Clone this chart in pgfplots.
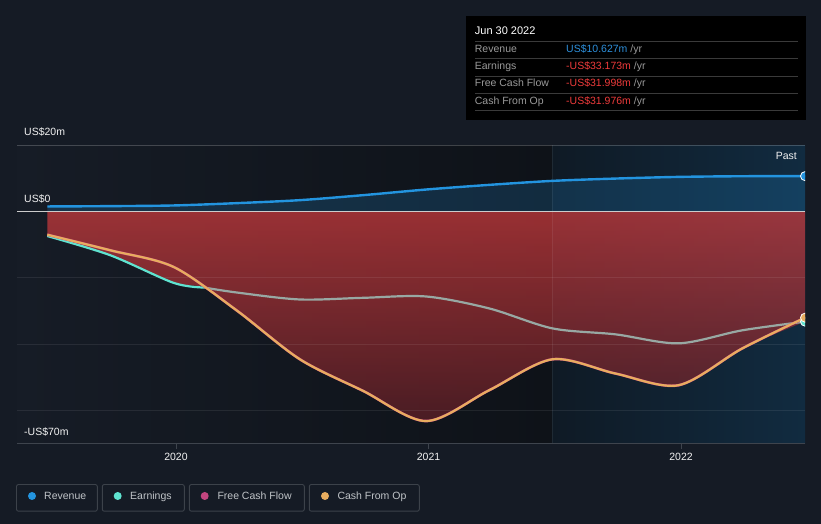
\documentclass[border=0pt]{standalone}
\usepackage{pgfplots}
\pgfplotsset{compat=1.18}
\usepackage{pgfplotstable}
\usepackage{fontspec}
\setmainfont{Liberation Sans}
\definecolor{bg}{HTML}{151B25}
\definecolor{plotL}{HTML}{161C26}
\definecolor{plotR}{HTML}{0E1218}
\definecolor{pastL}{HTML}{0F1A25}
\definecolor{pastR}{HTML}{112B40}
\definecolor{revc}{HTML}{2394DF}
\definecolor{earnc}{HTML}{5FE3D0}
\definecolor{fcfc}{HTML}{C2457F}
\definecolor{cfoc}{HTML}{E8AD5F}
\definecolor{greyline}{HTML}{98A8A3}
\definecolor{redtop}{RGB}{211,60,62}
\definecolor{redbot}{RGB}{98,32,39}
\definecolor{txt}{HTML}{C0C4C8}
\definecolor{boxc}{HTML}{3C424A}
\definecolor{axc}{HTML}{3E444D}
\definecolor{valred}{HTML}{EE3B3B}
\definecolor{valblue}{HTML}{2D90DC}
\definecolor{lblgrey}{HTML}{9A9A9A}
\definecolor{sepc}{HTML}{3A3A3A}
\newcommand\f[1]{\fontsize{#1}{#1}\selectfont}

\pgfplotstableread{
x y
2019.49 1.5
2019.74 1.6
2019.99 1.8
2020.24 2.5
2020.49 3.4
2020.74 4.9
2020.99 6.6
2021.24 8.0
2021.49 9.2
2021.74 9.9
2021.99 10.4
2022.24 10.6
2022.49 10.627
}\revtab

\pgfplotstableread{
x y
2019.49 -7.4
2019.74 -13.2
2019.99 -21.5
2020.111 -22.9
}\earnAtab

\pgfplotstableread{
x y
2020.111 -22.9
2020.24 -24.4
2020.49 -26.5
2020.74 -26.0
2020.99 -25.6
2021.24 -29.2
2021.49 -35.2
2021.74 -37.0
2021.99 -39.7
2022.24 -35.8
2022.49 -33.173
}\earnBtab

\pgfplotstableread{
x y
2019.49 -7.0
2019.74 -11.7
2019.99 -16.7
2020.24 -29.8
2020.49 -44.5
2020.74 -54.0
2020.99 -63.1
2021.24 -53.8
2021.49 -44.5
2021.74 -48.8
2021.99 -52.3
2022.24 -41.3
2022.49 -31.976
}\cfotab

\pgfplotstableread{
x y
2019.49 -7.0
2019.74 -11.7
2019.99 -16.7
2020.24 -29.8
2020.49 -44.5
2020.74 -54.0
2020.99 -63.1
2021.24 -53.8
2021.49 -44.5
2021.74 -48.8
2021.99 -52.3
2022.24 -41.3
2022.49 -31.998
}\fcftab

\pgfplotstableread{
x y
2019.49 -7.4
2019.74 -13.2
2019.99 -21.5
2020.111 -22.9
2020.24 -29.8
2020.49 -44.5
2020.74 -54.0
2020.99 -63.1
2021.24 -53.8
2021.49 -44.5
2021.74 -48.8
2021.99 -52.3
2022.24 -41.3
2022.49 -33.173
}\envtab

\begin{document}
\begin{tikzpicture}[x=1pt,y=1pt]
\fill[bg] (0,0) rectangle (821,524);
\useasboundingbox (0,0) rectangle (821,524);
\begin{axis}[
  at={(17pt,80pt)}, anchor=south west,
  scale only axis, width=788pt, height=299pt,
  xmin=2019.37, xmax=2022.49, ymin=-70, ymax=20,
  axis line style={draw=none},
  xtick={2020,2021,2022}, xticklabels={},
  ytick=\empty,
  xtick pos=left, tick align=outside,
  major tick length=5pt,
  tick style={draw=axc, line width=1pt},
  clip marker paths=true,
]
% backgrounds
\path[left color=plotL, right color=plotR] (2019.37,-70) rectangle (2021.49,20);
\path[left color=pastL, right color=pastR] (2021.49,-70) rectangle (2022.49,20);
% revenue area
\addplot[draw=none, fill=revc, fill opacity=0.2, smooth] table {\revtab} \closedcycle;
% negative area
\addplot[draw=none, top color=redtop, bottom color=redbot, fill opacity=0.7, smooth] table {\envtab} \closedcycle;
% grid
\draw[white, opacity=0.08, line width=1pt] (2019.37,-20) -- (2022.49,-20);
\draw[white, opacity=0.08, line width=1pt] (2019.37,-40) -- (2022.49,-40);
\draw[white, opacity=0.08, line width=1pt] (2019.37,-60) -- (2022.49,-60);
\draw[white, opacity=0.07, line width=1pt] (2021.49,-70) -- (2021.49,20);
\draw[white, opacity=0.2, line width=2pt] (2019.37,20) -- (2022.49,20);
\draw[axc, line width=2pt] (2019.37,-70) -- (2022.49,-70);
\draw[white!60!gray, line width=1.3pt] (2019.37,0) -- (2022.49,0);
% lines
\addplot[revc, line width=2.4pt, smooth] table {\revtab};
\addplot[earnc, line width=2.2pt, smooth] table {\earnAtab};
\addplot[greyline, line width=2.2pt, smooth] table {\earnBtab};
\addplot[fcfc, line width=2.6pt, smooth] table {\fcftab};
\addplot[cfoc, line width=2.2pt, smooth] table {\cfotab};
% end markers
\addplot[only marks, mark=*, mark size=4.5pt, mark options={fill=revc, draw=white, line width=0.8pt}] coordinates {(2022.49,10.627)};
\addplot[only marks, mark=*, mark size=4.5pt, mark options={fill=earnc, draw=white, line width=0.8pt}] coordinates {(2022.49,-33.173)};
\addplot[only marks, mark=*, mark size=4.5pt, mark options={fill=cfoc, draw=white, line width=0.8pt}] coordinates {(2022.49,-31.976)};
\end{axis}

% y labels
\node[anchor=base west, inner sep=0, text=white!90!gray, font=\f{10.5}] at (24,388) {US\$20m};
\node[anchor=base west, inner sep=0, text=white!90!gray, font=\f{10.5}] at (24,321) {US\$0};
\node[anchor=base west, inner sep=0, text=white!90!gray, font=\f{10.5}] at (24,88) {-US\$70m};
\node[anchor=base east, inner sep=0, text=white!90!gray, font=\f{10.5}] at (797,364) {Past};
% x labels
\node[anchor=base, inner sep=0, text=white!90!gray, font=\f{10.5}] at (176,63) {2020};
\node[anchor=base, inner sep=0, text=white!90!gray, font=\f{10.5}] at (428.5,63) {2021};
\node[anchor=base, inner sep=0, text=white!90!gray, font=\f{10.5}] at (681,63) {2022};

% tooltip
\fill[black] (466,508.3) rectangle (805.7,404);
\node[anchor=base west, inner sep=0, text=white, font=\f{11}] at (474.7,489) {Jun 30 2022};
\foreach \yy in {41.3,58.3,76.3,93.3,111} {\draw[sepc, line width=1pt] (475,524-\yy) -- (797.7,524-\yy);}
\node[anchor=base west, inner sep=0, text=lblgrey, font=\f{10.5}] at (474.7,471.7) {Revenue};
\node[anchor=base west, inner sep=0, text=lblgrey, font=\f{10.5}] at (474.7,454.4) {Earnings};
\node[anchor=base west, inner sep=0, text=lblgrey, font=\f{10.5}] at (474.7,437) {Free Cash Flow};
\node[anchor=base west, inner sep=0, text=lblgrey, font=\f{10.5}] at (474.7,419.7) {Cash From Op};
\node[anchor=base west, inner sep=0, font=\f{10.5}] at (566,471.7) {\textcolor{valblue}{US\$10.627m} \textcolor{lblgrey}{/yr}};
\node[anchor=base west, inner sep=0, font=\f{10.5}] at (566,454.4) {\textcolor{valred}{-US\$33.173m} \textcolor{lblgrey}{/yr}};
\node[anchor=base west, inner sep=0, font=\f{10.5}] at (566,437) {\textcolor{valred}{-US\$31.998m} \textcolor{lblgrey}{/yr}};
\node[anchor=base west, inner sep=0, font=\f{10.5}] at (566,419.7) {\textcolor{valred}{-US\$31.976m} \textcolor{lblgrey}{/yr}};

% legend
\draw[boxc, line width=0.9pt, rounded corners=2pt] (16.5,39.5) rectangle (97.3,12.8);
\draw[boxc, line width=0.9pt, rounded corners=2pt] (102.3,39.5) rectangle (184.3,12.8);
\draw[boxc, line width=0.9pt, rounded corners=2pt] (189.4,39.5) rectangle (304.3,12.8);
\draw[boxc, line width=0.9pt, rounded corners=2pt] (309.3,39.5) rectangle (419.3,12.8);
\fill[revc] (32,28) circle (4);
\fill[earnc] (117.7,28) circle (4);
\fill[fcfc] (204.7,28) circle (4);
\fill[cfoc] (325,28) circle (4);
\node[anchor=base west, inner sep=0, text=txt, font=\f{10.5}] at (44,24) {Revenue};
\node[anchor=base west, inner sep=0, text=txt, font=\f{10.5}] at (130,24) {Earnings};
\node[anchor=base west, inner sep=0, text=txt, font=\f{10.5}] at (217.3,24) {Free Cash Flow};
\node[anchor=base west, inner sep=0, text=txt, font=\f{10.5}] at (337.3,24) {Cash From Op};
\end{tikzpicture}
\end{document}
